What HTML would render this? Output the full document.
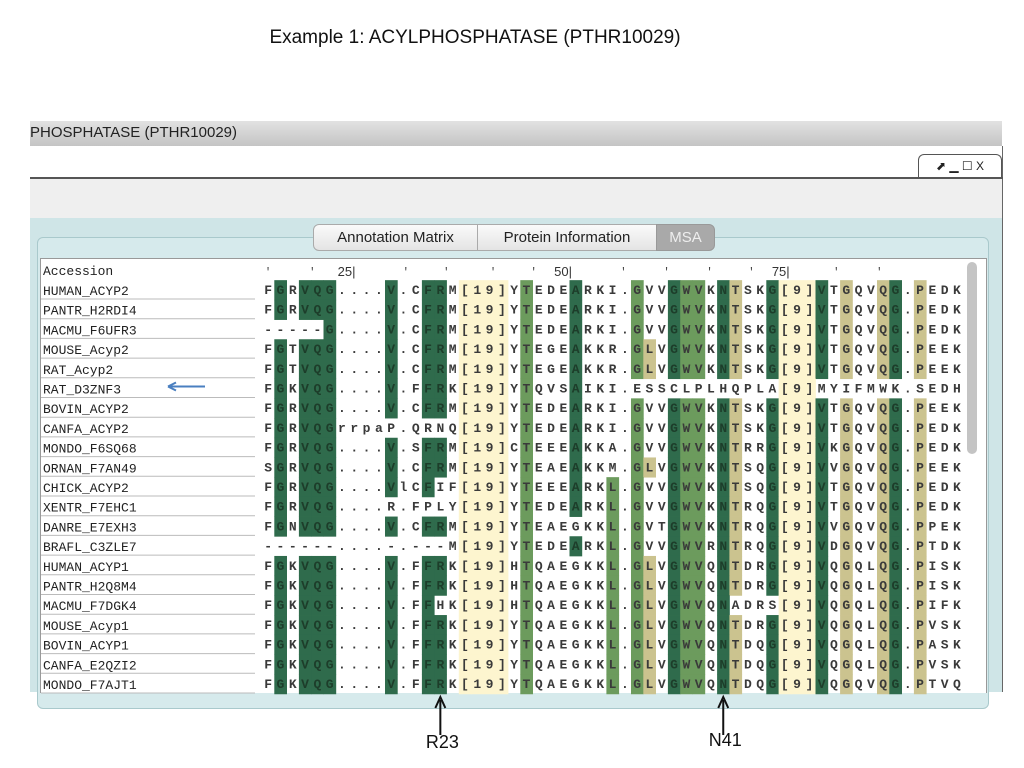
<!DOCTYPE html>
<html><head><meta charset="utf-8"><style>
body{margin:0;width:1024px;height:768px;background:#fff;position:relative;overflow:hidden;font-family:"Liberation Sans",sans-serif}
.abs{position:absolute}
</style></head><body>
<div class="abs" style="left:0;width:950px;top:27px;text-align:center;font-size:19px;color:#111">Example 1: ACYLPHOSPHATASE (PTHR10029)</div>
<div class="abs" style="left:30px;top:121px;width:972px;height:25px;background:linear-gradient(#e2e2e2,#c4c4c4);font-size:15px;line-height:24px;color:#222">PHOSPHATASE (PTHR10029)</div>
<div class="abs" style="left:30px;top:146px;width:972px;height:32px;background:#fff;border-right:1px solid #666"></div>
<div class="abs" style="left:918px;top:154px;width:82px;height:22px;border:1px solid #555;border-bottom:none;border-radius:6px 6px 0 0;font-size:12px;line-height:22px;text-align:center;color:#222">⬈ ▁ ☐ X</div>
<div class="abs" style="left:30px;top:177px;width:973px;height:2px;background:#555"></div>
<div class="abs" style="left:30px;top:179px;width:972px;height:39px;background:#efefef;border-right:1px solid #666"></div>
<div class="abs" style="left:30px;top:218px;width:972px;height:474px;background:#cfe5e7;border-right:1px solid #666"></div>
<div class="abs" style="left:37px;top:237px;width:950px;height:470px;border:1px solid #a9c9cc;border-radius:6px;background:#d6eaec"></div>
<div class="abs" style="left:40px;top:258px;width:945px;height:434px;background:#fff;border:1px solid #999;border-bottom:none"></div>
<div class="abs" style="left:313px;top:224px;width:163px;height:25px;background:linear-gradient(#fafafa,#e4e4e4);border:1px solid #aaa;border-radius:6px 0 0 6px;font-size:15px;line-height:25px;text-align:center;color:#222">Annotation Matrix</div>
<div class="abs" style="left:477px;top:224px;width:178px;height:25px;background:linear-gradient(#fafafa,#e4e4e4);border:1px solid #aaa;font-size:15px;line-height:25px;text-align:center;color:#222">Protein Information</div>
<div class="abs" style="left:656px;top:224px;width:57px;height:25px;background:#a9a9a9;border:1px solid #999;border-radius:0 6px 6px 0;font-size:15px;line-height:25px;text-align:center;color:#eee">MSA</div>
<div class="abs" style="left:967px;top:262px;width:10px;height:192px;background:#c4c4c4;border-radius:5px"></div>
<svg id="msa" class="abs" style="left:0;top:0" width="1024" height="768"></svg>
<script>
const names=["HUMAN_ACYP2","PANTR_H2RDI4","MACMU_F6UFR3","MOUSE_Acyp2","RAT_Acyp2","RAT_D3ZNF3","BOVIN_ACYP2","CANFA_ACYP2","MONDO_F6SQ68","ORNAN_F7AN49","CHICK_ACYP2","XENTR_F7EHC1","DANRE_E7EXH3","BRAFL_C3ZLE7","HUMAN_ACYP1","PANTR_H2Q8M4","MACMU_F7DGK4","MOUSE_Acyp1","BOVIN_ACYP1","CANFA_E2QZI2","MONDO_F7AJT1"];
const seqs=[
"FGRVQG....V.CFRM[19]YTEDEARKI.GVVGWVKNTSKG[9]VTGQVQG.PEDK",
"FGRVQG....V.CFRM[19]YTEDEARKI.GVVGWVKNTSKG[9]VTGQVQG.PEDK",
"-----G....V.CFRM[19]YTEDEARKI.GVVGWVKNTSKG[9]VTGQVQG.PEDK",
"FGTVQG....V.CFRM[19]YTEGEAKKR.GLVGWVKNTSKG[9]VTGQVQG.PEEK",
"FGTVQG....V.CFRM[19]YTEGEAKKR.GLVGWVKNTSKG[9]VTGQVQG.PEEK",
"FGKVQG....V.FFRK[19]YTQVSAIKI.ESSCLPLHQPLA[9]MYIFMWK.SEDH",
"FGRVQG....V.CFRM[19]YTEDEARKI.GVVGWVKNTSKG[9]VTGQVQG.PEEK",
"FGRVQGrrpaP.QRNQ[19]YTEDEARKI.GVVGWVKNTSKG[9]VTGQVQG.PEDK",
"FGRVQG....V.SFRM[19]CTEEEAKKA.GVVGWVKNTRRG[9]VKGQVQG.PEDK",
"SGRVQG....V.CFRM[19]YTEAEAKKM.GLVGWVKNTSQG[9]VVGQVQG.PEEK",
"FGRVQG....VlCFIF[19]YTEEEARKL.GVVGWVKNTSQG[9]VTGQVQG.PEDK",
"FGRVQG....R.FPLY[19]YTEDEARKL.GVVGWVKNTRQG[9]VTGQVQG.PEDK",
"FGNVQG....V.CFRM[19]YTEAEGKKL.GVTGWVKNTRQG[9]VVGQVQG.PPEK",
"------....-.---M[19]YTEDEARKL.GVVGWVRNTRQG[9]VDGQVQG.PTDK",
"FGKVQG....V.FFRK[19]HTQAEGKKL.GLVGWVQNTDRG[9]VQGQLQG.PISK",
"FGKVQG....V.FFRK[19]HTQAEGKKL.GLVGWVQNTDRG[9]VQGQLQG.PISK",
"FGKVQG....V.FFHK[19]HTQAEGKKL.GLVGWVQNADRS[9]VQGQLQG.PIFK",
"FGKVQG....V.FFRK[19]YTQAEGKKL.GLVGWVQNTDRG[9]VQGQLQG.PVSK",
"FGKVQG....V.FFRK[19]YTQAEGKKL.GLVGWVQNTDQG[9]VQGQLQG.PASK",
"FGKVQG....V.FFRK[19]YTQAEGKKL.GLVGWVQNTDQG[9]VQGQLQG.PVSK",
"FGKVQG....V.FFRK[19]YTQAEGKKL.GLVGWVQNTDQG[9]VQGQVQG.PTVQ"];
// per-column colour class: d=dark green, m=mid green, t=tan, y=pale insert, .=none
const colClass=[".","d",".","d","d","d",".",".",".",".","d",".",".","d","d",".","y","y","y","y",".","m",".",".",".","d",".",".","m",".","m","t",".","d","m","m",".","d","t",".",".","d","y","y","y","d",".","t",".",".","t","d",".","t",".",".","."];
const colMatch=[".","G",".","V","Q","G",".",".",".",".","V",".",".","F","R",".",".",".",".",".",".","T",".",".",".","A",".",".","L",".","G","L",".","G","W","V",".","N","T",".",".","G",".",".",".","V",".","G",".",".","Q","G",".","P",".",".","."];
const tickLabels=["25","50","75"];
const tickCols=[7.6,25.2,42.9];
const tickMarks=[0,3.6,11.2,14.5,18.3,21.6,28.9,32.4,35.9,39.3,46.2,49.7];
const fills={d:"#2f6b4c",m:"#6c9b5d",t:"#cbc38f",y:"#fdf5cf"};
const svg=document.getElementById('msa');
const NS="http://www.w3.org/2000/svg";
const x0=262,cw=12.3,y0=290,rh=19.7;
function cx(c){return x0+c*cw;}
function ry(r){return y0+r*rh;}
function mk(t,a){const e=document.createElementNS(NS,t);for(const k in a)e.setAttribute(k,a[k]);svg.appendChild(e);return e;}
let t=mk('text',{x:43,y:275,'font-family':'Liberation Mono,monospace','font-size':13,fill:'#222'});t.textContent="Accession";


tickMarks.forEach(c=>{const e=mk('text',{x:cx(c)+6,y:275,'font-size':11,'font-family':'Liberation Mono,monospace',fill:'#444','text-anchor':'middle'});e.textContent="'";

});
tickLabels.forEach((l,i)=>{const e=mk('text',{x:cx(tickCols[i]),y:276,'font-size':13,'font-family':'Liberation Sans,sans-serif',fill:'#333','text-anchor':'end'});e.textContent=l+"|";

});
names.forEach((n,r)=>{
 const y=ry(r);
 const ln=mk('line',{x1:41,x2:255,y1:y+9,y2:y+9,stroke:'#bbb','stroke-width':1});
 
 
 const e=mk('text',{x:43,y:y+5,'font-family':'Liberation Mono,monospace','font-size':13,fill:'#222'});e.textContent=n;
 
 
 const s=seqs[r];
 for(let c=0;c<s.length;c++){
  const ch=s[c],k=colClass[c];
  let f=null;
  if(k==='y')f=fills.y;
  else if(k&&k!=='.'&&colMatch[c]===ch)f=fills[k];
  if(f){const rc=mk('rect',{x:cx(c),y:y-rh/2,width:cw+0.4,height:rh+0.4,fill:f});
   
   }
 }
 for(let c=0;c<s.length;c++){
  const k=colClass[c];const dark=(k==='d'&&colMatch[c]===s[c]);
  const e2=mk('text',{x:cx(c)+cw/2,y:y+4,'font-family':'Liberation Mono,monospace','font-size':13,'font-weight':'bold','text-anchor':'middle',fill:dark?'#1d3d2a':'#3a3a3a'});
  e2.textContent=s[c];
  
  
 }
});
const ya=ry(5)-2;
let a=mk('line',{x1:205,x2:170,y1:ya,y2:ya,stroke:'#4a7fc0','stroke-width':2});


a=mk('path',{d:`M168 ${ya} l8 -4 M168 ${ya} l8 4`,stroke:'#4a7fc0','stroke-width':2,fill:'none'});


[[14,"R23",748],[37,"N41",746]].forEach(([c,l,ly])=>{
 const x=cx(c)+cw/2;
 const ln=mk('line',{x1:x,x2:x,y1:735,y2:700,stroke:'#111','stroke-width':2});
 
 
 const h=mk('path',{d:`M${x-5} ${708} L${x} 697 L${x+5} 708`,stroke:'#111','stroke-width':2,fill:'none'});
 
 
 const tx=mk('text',{x:x+2,y:ly,'font-size':18,'font-family':'Liberation Sans,sans-serif','text-anchor':'middle',fill:'#111'});
 tx.textContent=l;
 
 
});
</script>
</body></html>
